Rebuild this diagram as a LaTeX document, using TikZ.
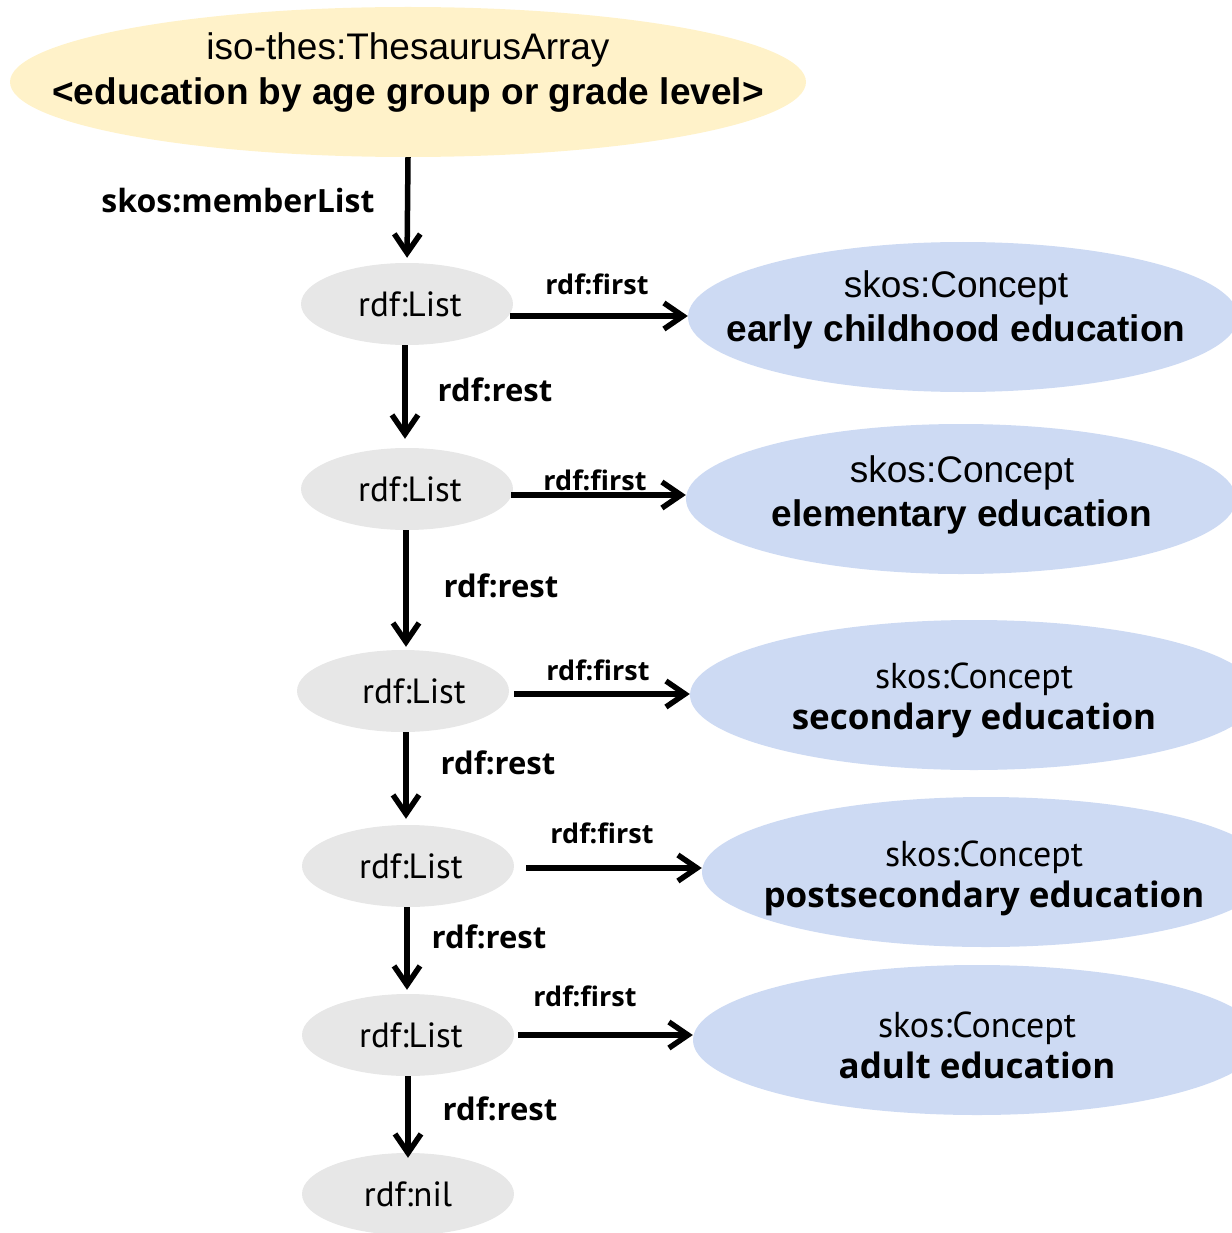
\documentclass[tikz,border=0pt]{standalone}
\usepackage{fontspec}
\setmainfont{Liberation Sans}
\newfontfamily\humfont{PT Sans}
\newfontfamily\humbold{Open Sans}[UprightFont=* Bold]
\usetikzlibrary{shapes.geometric,arrows.meta}
\definecolor{arrayfill}{HTML}{FFF2C9}
\definecolor{conceptfill}{HTML}{CDDAF3}
\definecolor{listfill}{HTML}{E7E7E7}
\begin{document}
\begin{tikzpicture}[x=1pt,y=-1pt,
  blob/.style={ellipse,inner sep=0pt},
  arraynode/.style={blob,fill=arrayfill,minimum width=796pt,minimum height=150pt},
  conceptA/.style={blob,fill=conceptfill,minimum width=550pt,minimum height=150pt},
  conceptB/.style={blob,fill=conceptfill,minimum width=568pt,minimum height=150pt},
  listnode/.style={blob,fill=listfill,minimum width=212pt,minimum height=82pt,font=\humfont\fontsize{35}{40}\selectfont},
  arialtext/.style={align=center,inner sep=0pt,font=\fontsize{37}{44}\selectfont},
  humtext/.style={align=center,inner sep=0pt,font=\humfont\fontsize{36}{41}\selectfont},
  restlbl/.style={font=\humbold\fontsize{31}{34}\selectfont},
  firstlbl/.style={font=\humbold\fontsize{27}{30}\selectfont},
  link/.style={line width=5.5pt,-{Straight Barb[length=19pt,width=26pt]}}
]
\useasboundingbox (0,0) rectangle (1231,1233);

% thesaurus array
\node[arraynode] (arr) at (408,82) {};
\node[arialtext,font=\fontsize{37}{45}\selectfont] (arrt) at (408,72.5)
  {iso-thes:ThesaurusArray\\\textbf{<education by age group or grade level>}};

% list cells
\node[listnode] (l1) at (407,304) {\hspace*{6pt}rdf:List};
\node[listnode] (l2) at (407,489) {\hspace*{6pt}rdf:List};
\node[listnode] (l3) at (403,691) {\hspace*{22pt}rdf:List};
\node[listnode] (l4) at (408,866) {\hspace*{6pt}rdf:List};
\node[listnode] (l5) at (408,1035) {\hspace*{6pt}rdf:List};
\node[listnode] (nil) at (408,1194) {rdf:nil};

% concepts
\node[conceptA] (c1) at (963,317) {};
\node[conceptA] (c2) at (961,499) {};
\node[conceptB] (c3) at (974,695) {};
\node[conceptB] (c4) at (986,872) {};
\node[conceptB] (c5) at (977,1040) {};
\node[arialtext] (c1t) at (956,310) {skos:Concept\\\textbf{early childhood education}};
\node[arialtext] (c2t) at (962,494.5) {skos:Concept\\\textbf{elementary education}};
\node[humtext] (c3t) at (974,700) {skos:Concept\\{\humbold\fontsize{35}{41}\selectfont secondary education}};
\node[humtext] (c4t) at (984,878) {skos:Concept\\{\humbold\fontsize{35}{41}\selectfont postsecondary education}};
\node[humtext] (c5t) at (977,1045) {skos:Concept\\{\humbold\fontsize{35}{41}\selectfont adult education}};

% start points of the rdf:first links
\coordinate (s1) at ([xshift=-3pt,yshift=-12pt]l1.east);
\coordinate (s2) at ([xshift=-2pt,yshift=-6pt]l2.east);
\coordinate (s3) at ([xshift=5pt,yshift=-3pt]l3.east);
\coordinate (s4) at ([xshift=12pt,yshift=-2pt]l4.east);
\coordinate (s5) at ([xshift=4pt]l5.east);

% links
\draw[link,shorten >=5pt] (arr.south) -- (l1.north);
\draw[link] (s1) -- (s1 -| c1.west);
\draw[link] (s2) -- (s2 -| c2.west);
\draw[link] (s3) -- (s3 -| c3.west);
\draw[link] (s4) -- (s4 -| c4.west);
\draw[link] (s5) -- (s5 -| c5.west);
\draw[link,shorten >=9pt] ([xshift=-2pt]l1.south) -- ([xshift=-2pt]l1.south |- l2.north);
\draw[link,shorten >=3pt] ([xshift=-1pt]l2.south) -- ([xshift=-1pt]l2.south |- l3.north);
\draw[link,shorten >=6pt] ([xshift=3pt]l3.south) -- ([xshift=3pt]l3.south |- l4.north);
\draw[link,shorten >=4pt] ([xshift=-1pt]l4.south) -- ([xshift=-1pt]l4.south |- l5.north);
\draw[link,shorten >=-5pt] (l5.south) -- (nil.north);

% link labels
\node[restlbl,font=\humbold\fontsize{32}{34}\selectfont] (mlab) at (238,201) {skos:memberList};
\node[firstlbl] (f1) at (597,284) {rdf:first};
\node[firstlbl] (f2) at (595,480) {rdf:first};
\node[firstlbl] (f3) at (598,670) {rdf:first};
\node[firstlbl] (f4) at (602,833) {rdf:first};
\node[firstlbl] (f5) at (585,996) {rdf:first};
\node[restlbl] (r1) at (495,390) {rdf:rest};
\node[restlbl] (r2) at (501,586) {rdf:rest};
\node[restlbl] (r3) at (498,763) {rdf:rest};
\node[restlbl] (r4) at (489,937) {rdf:rest};
\node[restlbl] (r5) at (500,1109) {rdf:rest};
\end{tikzpicture}
\end{document}
